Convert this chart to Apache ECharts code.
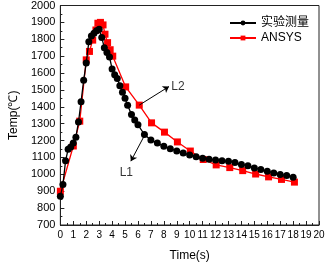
<!DOCTYPE html>
<html><head><meta charset="utf-8">
<script src="https://cdn.jsdelivr.net/npm/echarts@6/dist/echarts.min.js"></script>
<style>html,body{margin:0;padding:0;background:#fff}#c{width:330px;height:267px}</style>
</head><body><div id="c"></div>
<script>
var expT = [0,0.2,0.4,0.6,0.8,1.0,1.2,1.4,1.6,1.8,2.0,2.2,2.4,2.6,2.8,3.0,3.2,3.4,3.6,3.8,4.0,4.2,4.4,4.6,4.8,5.0,5.2,5.5,5.75,6.0,6.5,7.0,7.5,8.0,8.5,9.0,9.5,10,10.5,11,11.5,12,12.5,13,13.5,14,14.5,15,15.5,16,16.5,17,17.5,18];
var expV = [870,940,1080,1148,1162,1185,1220,1310,1430,1557,1660,1785,1820,1836,1851,1860,1810,1750,1722,1695,1624,1590,1567,1525,1486,1450,1409,1355,1322,1293,1236,1204,1185,1166,1152,1139,1127,1114,1104,1095,1089,1085,1080,1078,1070,1058,1051,1038,1028,1018,1008,999,993,983];
var ansT = [0,1,1.5,2,2.25,2.5,2.75,2.9,3.1,3.3,3.45,3.65,3.85,4.05,5.05,6.1,7.05,8.05,9.05,10.05,11.05,12.05,13.1,14.1,15.1,16.1,17.1,18.1];
var ansV = [900,1168,1315,1678,1728,1795,1855,1895,1900,1885,1830,1780,1738,1700,1518,1410,1305,1250,1192,1138,1088,1056,1040,1022,1002,985,970,954];
var xTicks = {min:0, max:20, step:1};
var yTicks = {min:700, max:2000, step:100};
var seriesNames = ['实验测量','ANSYS'];
var notes = [{text:'L2', from:[6.1,1410], to:[8.4,1520], at:[9.1,1520]},
             {text:'L1', from:[6.55,1237], to:[5.45,1078], at:[5.1,1010]}];

function zip(a,b){return a.map(function(v,i){return [v,b[i]];});}
var font = '"Liberation Sans", Arial, sans-serif';
var chart = echarts.init(document.getElementById('c'));
chart.setOption({
  animation:false,
  grid:{left:42,right:11,top:5,bottom:37,show:true,borderColor:'#222',borderWidth:1},
  legend:{right:16,top:12,orient:'vertical',itemGap:3,itemWidth:26,itemHeight:6,
    textStyle:{fontFamily:'"Liberation Sans","Noto Sans CJK SC",sans-serif',fontSize:12,color:'#000'},
    data:seriesNames},
  xAxis:{type:'value',min:xTicks.min,max:xTicks.max,interval:xTicks.step,
    name:'Time(s)',nameLocation:'middle',nameGap:25,
    nameTextStyle:{fontFamily:font,fontSize:12,color:'#000'},
    axisLine:{lineStyle:{color:'#222',width:1}},
    axisTick:{inside:true,length:4,lineStyle:{color:'#222'}},
    minorTick:{show:true,splitNumber:2,length:2,lineStyle:{color:'#222'}},
    splitLine:{show:false},
    axisLabel:{fontFamily:font,fontSize:10,color:'#000',margin:5,formatter:function(v){return String(v);}}},
  yAxis:{type:'value',min:yTicks.min,max:yTicks.max,interval:yTicks.step,
    name:'Temp(℃)',nameLocation:'middle',nameGap:33,
    nameTextStyle:{fontFamily:font,fontSize:12,color:'#000'},
    axisLine:{show:true,lineStyle:{color:'#222',width:1}},
    axisTick:{show:true,inside:true,length:4,lineStyle:{color:'#222'}},
    minorTick:{show:true,splitNumber:2,length:2,lineStyle:{color:'#222'}},
    splitLine:{show:false},
    axisLabel:{fontFamily:font,fontSize:11,color:'#000',margin:5,formatter:function(v){return String(v);}}},
  series:[
    {name:seriesNames[0],type:'line',data:zip(expT,expV),symbol:'circle',symbolSize:7,
     itemStyle:{color:'#000'},lineStyle:{color:'#000',width:1.3},z:3,
     markLine:{silent:true,symbol:['none','arrow'],symbolSize:6,
       lineStyle:{color:'#000',width:1,type:'solid'},label:{show:false},
       data:[[{coord:notes[1].from},{coord:notes[1].to}]]}},
    {name:seriesNames[1],type:'line',data:zip(ansT,ansV),symbol:'rect',symbolSize:7,
     itemStyle:{color:'#ff0000'},lineStyle:{color:'#ff0000',width:1.3},z:2,
     markLine:{silent:true,symbol:['none','arrow'],symbolSize:6,
       lineStyle:{color:'#000',width:1,type:'solid'},label:{show:false},
       data:[[{coord:notes[0].from},{coord:notes[0].to}]]}},
    {name:'notes',type:'scatter',symbolSize:0,silent:true,
     data:notes.map(function(n){return {value:n.at,label:{formatter:n.text}};}),
     label:{show:true,position:'inside',fontFamily:font,fontSize:12,color:'#000'}}
  ]
});
</script></body></html>
